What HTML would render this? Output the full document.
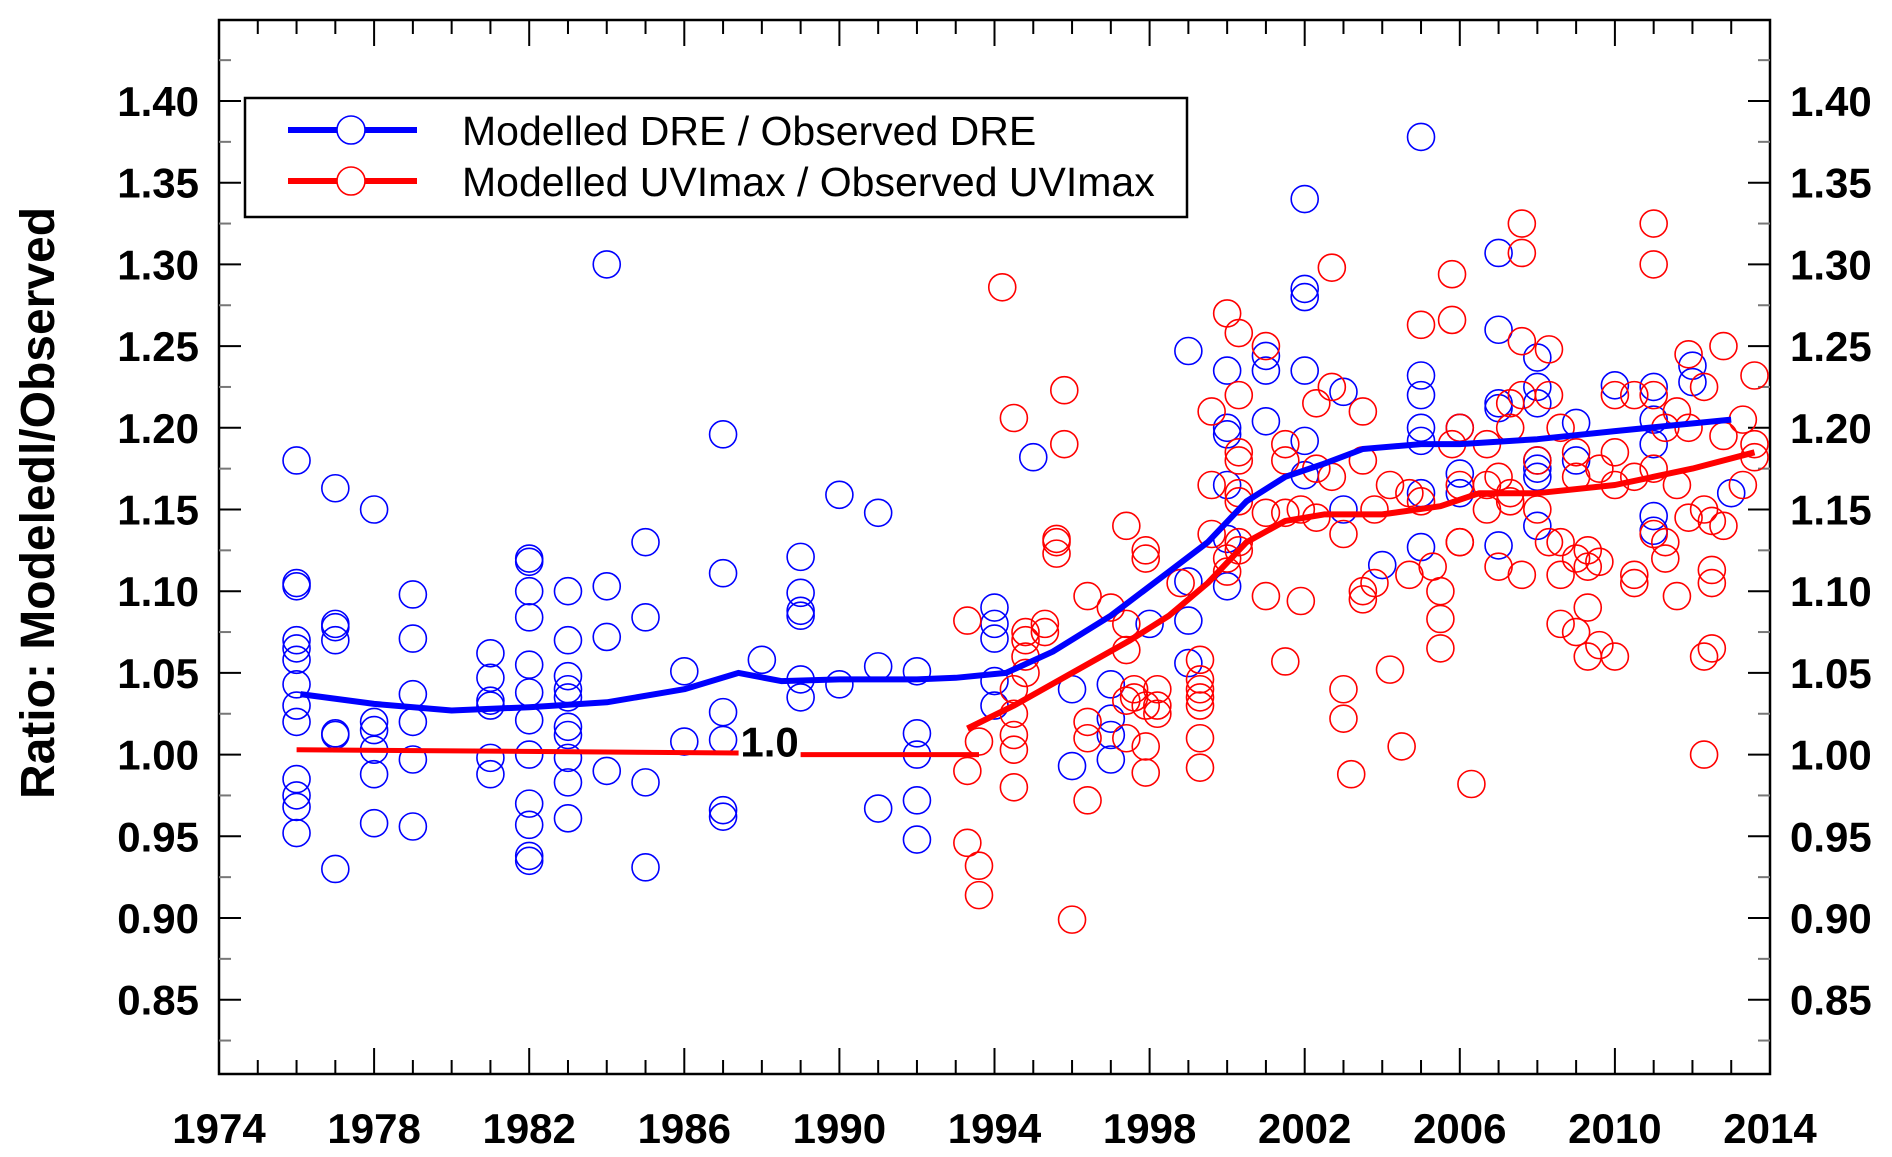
<!DOCTYPE html>
<html><head><meta charset="utf-8"><style>
html,body{margin:0;padding:0;background:#fff}
svg{display:block}
text{font-family:"Liberation Sans",sans-serif;font-weight:bold;fill:#000}
</style></head><body>
<svg id="chart" width="1892" height="1157" viewBox="0 0 1892 1157" xmlns="http://www.w3.org/2000/svg">
<g id="axes"></g>
<g id="marks"></g>
<g id="legend">
<rect x="245" y="98" width="942" height="119" fill="#fff" stroke="#000" stroke-width="2.5"/>
<line x1="288" y1="130" x2="417" y2="130" stroke="#0000ff" stroke-width="6"/>
<circle cx="351" cy="130" r="14" fill="#fff" stroke="#0000ff" stroke-width="1.6"/>
<text x="462" y="145" font-size="41" style="font-weight:normal">Modelled DRE / Observed DRE</text>
<line x1="288" y1="181" x2="417" y2="181" stroke="#ff0000" stroke-width="6"/>
<circle cx="351" cy="181" r="14" fill="#fff" stroke="#ff0000" stroke-width="1.6"/>
<text x="462" y="196" font-size="41" style="font-weight:normal">Modelled UVImax / Observed UVImax</text>
</g>
<text transform="translate(54,503) rotate(-90)" text-anchor="middle" font-size="48">Ratio: Modeledl/Observed</text>
</svg>
<script>
const xTicks=[1974,1978,1982,1986,1990,1994,1998,2002,2006,2010,2014];
const yTicks=[0.85,0.90,0.95,1.00,1.05,1.10,1.15,1.20,1.25,1.30,1.35,1.40];
const dreYears=[1976,1977,1978,1979,1981,1982,1983,1984,1985,1986,1987,1988,1989,1990,1991,1992,1994,1995,1996,1997,1998,1999,2000,2001,2002,2003,2004,2005,2006,2007,2008,2009,2010,2011,2012,2013];
const dreValues=[[1.18,1.105,1.103,1.07,1.065,1.058,1.043,1.03,1.02,0.985,0.975,0.968,0.952],[1.163,1.08,1.078,1.07,1.013,1.012,0.93],[1.15,1.02,1.015,1.003,0.988,0.958],[1.098,1.071,1.037,1.02,0.997,0.956],[1.062,1.047,1.033,1.03,0.998,0.988],[1.12,1.118,1.10,1.084,1.055,1.038,1.021,1.0,0.97,0.957,0.938,0.935],[1.10,1.07,1.048,1.04,1.035,1.017,1.012,0.998,0.983,0.961],[1.30,1.103,1.072,0.99],[1.13,1.084,0.983,0.931],[1.051,1.008],[1.196,1.111,1.026,1.009,0.966,0.962],[1.058],[1.121,1.099,1.088,1.085,1.046,1.035],[1.159,1.043],[1.148,1.054,0.967],[1.051,1.013,1.0,0.972,0.948],[1.09,1.08,1.071,1.045,1.03],[1.182],[1.04,0.993],[1.043,1.022,1.012,0.997],[1.08],[1.247,1.106,1.082,1.056],[1.235,1.2,1.196,1.165,1.132,1.103],[1.244,1.235,1.204],[1.34,1.285,1.28,1.235,1.192,1.171],[1.222,1.15],[1.116],[1.378,1.232,1.22,1.2,1.192,1.16,1.127],[1.2,1.172,1.16],[1.307,1.26,1.215,1.212,1.128],[1.243,1.225,1.215,1.18,1.175,1.17,1.14],[1.203,1.18],[1.226],[1.225,1.205,1.19,1.146,1.137],[1.238,1.228],[1.16]];
const uviYears=[1993.3,1993.6,1994.2,1994.5,1994.8,1995.3,1995.6,1995.8,1996,1996.4,1997,1997.4,1997.6,1997.9,1998.2,1998.8,1999.3,1999.6,2000,2000.3,2001,2001.5,2001.9,2002.3,2002.7,2003,2003.2,2003.5,2003.8,2004.2,2004.5,2004.7,2005,2005.3,2005.5,2005.8,2006,2006.3,2006.7,2007,2007.3,2007.6,2008,2008.3,2008.6,2009,2009.3,2009.6,2010,2010.5,2011,2011.3,2011.6,2011.9,2012.3,2012.5,2012.8,2013.3,2013.6];
const uviValues=[[1.082,0.99,0.946],[1.008,0.932,0.914],[1.286],[1.206,1.04,1.025,1.012,1.003,0.98],[1.075,1.07,1.06,1.05],[1.08,1.075],[1.132,1.13,1.123],[1.223,1.19],[0.899],[1.097,1.02,1.01,0.972],[1.09],[1.14,1.08,1.064,1.033,1.01],[1.035,1.04],[1.125,1.12,1.03,1.005,0.989],[1.04,1.03,1.025],[1.105],[1.058,1.046,1.04,1.035,1.03,1.01,0.992],[1.21,1.165,1.135],[1.27,1.12,1.112],[1.258,1.22,1.185,1.18,1.16,1.155,1.13,1.125],[1.25,1.148,1.097],[1.19,1.18,1.148,1.057],[1.15,1.094],[1.215,1.175,1.145],[1.298,1.225,1.17],[1.04,1.022,1.135],[0.988],[1.21,1.18,1.1,1.095],[1.105,1.15],[1.165,1.052],[1.005],[1.16,1.11],[1.263,1.155],[1.115],[1.1,1.083,1.065],[1.294,1.266,1.19],[1.2,1.165,1.13,1.13],[0.982],[1.19,1.165,1.15],[1.17,1.115],[1.215,1.2,1.16,1.155],[1.325,1.307,1.253,1.22,1.11],[1.18,1.15],[1.248,1.22,1.13],[1.2,1.13,1.11,1.08],[1.185,1.17,1.075,1.12],[1.125,1.115,1.06,1.09],[1.175,1.118,1.067],[1.22,1.185,1.165,1.06],[1.22,1.17,1.11,1.105],[1.325,1.3,1.22,1.175,1.135],[1.2,1.13,1.12],[1.21,1.165,1.097],[1.245,1.2,1.145],[1.225,1.15,1.06,1.0],[1.113,1.105,1.143,1.065],[1.25,1.195,1.14],[1.205,1.165],[1.232,1.19,1.182]];
const dreTrendX=[1976.1,1978,1980,1982,1984,1986,1987.4,1988.5,1990,1992,1993,1994.3,1995.5,1997,1998.5,1999.5,2000.5,2001.5,2002.5,2003.5,2005,2006,2008,2010,2013];
const dreTrendY=[1.037,1.031,1.027,1.029,1.032,1.04,1.05,1.045,1.046,1.046,1.047,1.05,1.063,1.085,1.112,1.13,1.155,1.17,1.178,1.187,1.19,1.19,1.193,1.198,1.205];
const uviTrendX=[1993.3,1994.5,1996,1997.5,1998.5,1999.5,2000.5,2001.5,2002.5,2004,2005.5,2006.5,2008,2010,2012,2013.6];
const uviTrendY=[1.016,1.03,1.05,1.07,1.085,1.105,1.13,1.143,1.147,1.147,1.152,1.16,1.16,1.165,1.175,1.185];
const refX1=[1976,1987.4],refY1=[1.003,1.001];
const refX2=[1989,1993.6],refY2=[1.0,1.0];

const L=219,R=1770,T=20,B=1074;
const xs=v=>L+(v-1974)/40*(R-L);
const ys=v=>101+(1.40-v)/0.05*81.7;
const NS='http://www.w3.org/2000/svg';
const axes=document.getElementById('axes'),marks=document.getElementById('marks');
function mk(tag,attrs,parent){const e=document.createElementNS(NS,tag);for(const k in attrs)e.setAttribute(k,attrs[k]);parent.appendChild(e);return e;}
let e=mk('rect',{x:L,y:T,width:R-L,height:B-T,fill:'none',stroke:'#000','stroke-width':2.5},axes);


for(let yr=1974;yr<=2014;yr++){const x=xs(yr),len=(yr%4===2)?26:14;
 e=mk('line',{x1:x,y1:B,x2:x,y2:B-len,stroke:'#000','stroke-width':2},axes);
 
 
 e=mk('line',{x1:x,y1:T,x2:x,y2:T+len,stroke:'#000','stroke-width':2},axes);
 
 }
xTicks.forEach(t=>{e=mk('text',{x:xs(t),y:1143,'text-anchor':'middle','font-size':42},axes);e.textContent=t;
 
 });
for(let v=0.825;v<=1.43;v+=0.025){const y=ys(v);if(y<T||y>B)continue;const major=Math.abs((v*20)-Math.round(v*20))<0.01;
 const len=major?22:12,col=major?'#000':'#777';
 e=mk('line',{x1:L,y1:y,x2:L+len,y2:y,stroke:col,'stroke-width':2},axes);
 
 
 e=mk('line',{x1:R,y1:y,x2:R-len,y2:y,stroke:col,'stroke-width':2},axes);
 
 }
yTicks.forEach(t=>{e=mk('text',{x:199,y:ys(t)+15,'text-anchor':'end','font-size':42},axes);e.textContent=t.toFixed(2);
 
 
 e=mk('text',{x:1790,y:ys(t)+15,'text-anchor':'start','font-size':42},axes);e.textContent=t.toFixed(2);
 
 });
function pts(X,Y){return X.map((x,i)=>xs(x).toFixed(1)+','+ys(Y[i]).toFixed(1)).join(' ');}
dreYears.forEach((yr,i)=>dreValues[i].forEach(v=>{e=mk('circle',{cx:xs(yr),cy:ys(v),r:13.5,fill:'none',stroke:'#0000ff','stroke-width':1.6},marks);
 
 }));
uviYears.forEach((yr,i)=>uviValues[i].forEach(v=>{e=mk('circle',{cx:xs(yr),cy:ys(v),r:13.5,fill:'none',stroke:'#ff0000','stroke-width':1.6},marks);
 
 }));
e=mk('polyline',{points:pts(refX1,refY1),fill:'none',stroke:'#ff0000','stroke-width':5},marks);


e=mk('polyline',{points:pts(refX2,refY2),fill:'none',stroke:'#ff0000','stroke-width':5},marks);


e=mk('text',{x:xs(1988.2),y:ys(1.0)+2,'text-anchor':'middle','font-size':42},marks);e.textContent='1.0';


e=mk('polyline',{points:pts(dreTrendX,dreTrendY),fill:'none',stroke:'#0000ff','stroke-width':6,'stroke-linejoin':'round'},marks);


e=mk('polyline',{points:pts(uviTrendX,uviTrendY),fill:'none',stroke:'#ff0000','stroke-width':6,'stroke-linejoin':'round'},marks);


</script>
</body></html>
